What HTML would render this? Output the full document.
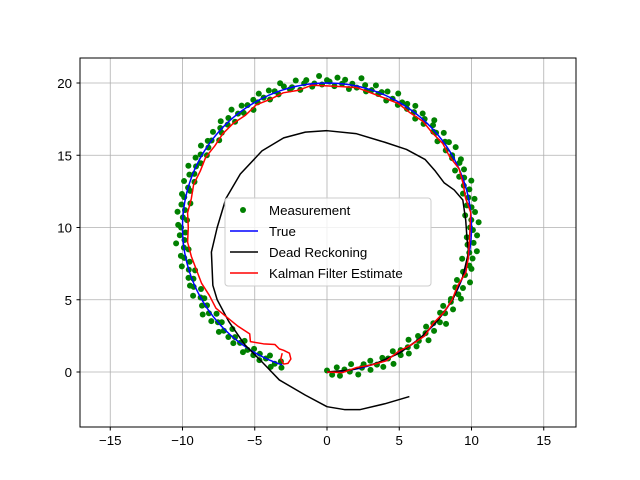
<!DOCTYPE html>
<html><head><meta charset="utf-8"><style>
body{margin:0;background:#fff}
svg{display:block;font-family:"Liberation Sans","DejaVu Sans",sans-serif}
</style></head><body>
<svg id="chart" width="640" height="480" xmlns="http://www.w3.org/2000/svg">
<rect width="640" height="480" fill="#fff"/>
<g id="grid"></g>
<g id="series" clip-path="url(#clip)"></g>
<defs><clipPath id="clip"><rect x="80" y="58" width="496" height="369"/></clipPath></defs>
<rect x="80" y="58" width="496" height="369" fill="none" stroke="#000" stroke-width="1"/>
<g id="ticks"></g>
<g id="legend">
<rect x="225" y="198" width="206" height="88" rx="3" fill="#fff" fill-opacity="0.8" stroke="#ccc"/>
<circle cx="243" cy="210" r="3" fill="green"/>
<text x="269" y="215" font-size="13.3">Measurement</text>
<line x1="230" y1="231" x2="258" y2="231" stroke="blue" stroke-width="1.5"/>
<text x="269" y="236" font-size="13.3">True</text>
<line x1="230" y1="252" x2="258" y2="252" stroke="#000" stroke-width="1.5"/>
<text x="269" y="257" font-size="13.3">Dead Reckoning</text>
<line x1="230" y1="273" x2="258" y2="273" stroke="red" stroke-width="1.5"/>
<text x="269" y="278" font-size="13.3">Kalman Filter Estimate</text>
</g>
</svg>
<script>
const xTicks=[-15,-10,-5,0,5,10,15];
const yTicks=[0,5,10,15,20];
const measAngle=[-90,-88,-86,-85,-83,-81,-80,-78,-76,-75,-73,-72,-70,-68,-67,-65,-64,-62,-60,-59,-57,-56,-54,-53,-51,-50,-48,-47,-45,-44,-42,-40,-39,-37,-36,-34,-33,-31,-30,-28,-27,-25,-24,-22,-21,-19,-18,-16,-15,-13,-12,-10,-9,-7,-6,-4,-3,-1,0,2,3,5,6,8,9,11,12,14,15,17,18,20,21,23,24,26,27,29,30,32,33,35,36,38,39,41,42,44,45,47,48,50,51,53,54,56,57,59,60,62,63,65,66,68,69,71,72,74,75,77,78,80,81,83,84,86,87,89,90,92,93,95,96,98,99,101,102,104,105,107,108,110,111,113,114,116,117,119,120,122,123,125,126,128,129,131,132,134,135,137,138,140,141,143,144,146,147,149,150,152,153,155,156,158,159,161,162,164,165,167,168,170,171,173,174,176,177,179,180,182,183,185,186,188,189,191,192,194,195,197,198,200,201,203,204,206,207,209,210,212,213,215,216,218,219,221,222,224,225,227,228,230,231,233,234,236,237,239,240,242,243,245,246,248,249,251,252];
const measRadius=[9.9,10.2,9.7,10.3,9.9,10.1,9.6,10.4,10.0,9.8,10.3,9.7,10.1,10.4,9.8,10.0,10.5,9.7,10.2,9.9,10.4,10.0,9.6,10.3,10.1,9.8,10.5,10.0,9.7,10.3,9.9,10.2,10.6,9.8,10.1,9.7,10.4,10.0,9.9,10.5,10.2,9.8,10.3,9.7,10.6,10.1,9.9,10.4,10.2,9.6,10.3,10.0,10.5,9.8,10.2,9.7,10.4,10.1,9.9,10.5,10.0,9.6,10.3,10.1,9.8,10.4,10.0,9.7,10.2,9.9,10.5,10.1,9.8,10.3,9.7,10.2,10.4,9.9,10.0,10.5,9.8,10.3,10.1,9.7,10.4,10.0,9.9,10.2,10.5,9.8,10.1,10.3,9.7,10.0,10.4,9.9,10.2,10.1,9.8,10.5,10.0,9.7,10.3,10.1,9.9,10.4,10.0,9.8,10.2,10.6,9.9,10.1,9.7,10.3,10.0,10.4,9.8,10.1,10.2,9.9,10.5,10.0,9.8,10.3,10.1,9.7,10.4,10.0,9.9,10.2,10.5,9.8,10.1,10.3,9.7,10.0,10.4,9.9,10.2,9.6,10.1,10.3,9.8,10.0,10.5,9.7,10.2,9.9,10.4,10.1,9.8,10.3,9.6,10.0,10.2,9.9,10.4,9.7,10.1,10.3,9.8,10.0,10.5,9.9,10.2,9.7,10.4,10.0,9.8,10.3,10.1,9.6,10.2,9.9,10.4,10.0,9.7,10.3,10.1,9.8,10.2,9.9,10.5,10.0,9.7,10.3,10.1,9.8,10.4,10.0,9.6,10.2,9.9,10.3,10.1,9.7,10.4,10.0,9.8,10.2,9.9,10.5,10.1,9.7,10.3,10.0,9.8,10.4,10.1,9.6,10.2,9.9,10.3,10.0,9.7,10.4,10.1,9.8,10.2,9.9,10.3,10.0,9.7,10.4,10.1,9.8,10.2,9.9,10.3,9.7,10.1,10.0,10.4,9.8,10.2,9.9];
const trueAngle=[-90,-75,-60,-45,-30,-15,0,15,30,45,60,75,90,105,120,135,150,165,180,195,210,225,240,252];
const trueRadius=[10,10,10,10,10,10,10,10,10,10,10,10,10,10,10,10,10,10,10,10,10,10,10,10];
const kfAngle=[-90,-84,-78,-72,-66,-60,-54,-48,-42,-36,-30,-24,-18,-12,-6,0,6,12,18,24,30,36,42,48,54,60,66,72,78,84,90,96,102,108,114,120,126,132,138,144,150,156,162,168,174,180,186,192,198,204,210,216,222,228,234];
const kfRadius=[10.0,10.1,9.9,10.0,10.1,9.9,10.0,10.1,9.9,10.0,10.0,9.9,10.1,10.0,9.9,9.9,10.0,9.8,9.9,10.0,9.8,9.9,9.8,9.9,9.8,9.9,9.8,9.8,9.9,9.8,9.8,9.9,9.7,9.8,9.7,9.8,9.6,9.7,9.7,9.6,9.7,9.6,9.7,9.6,9.7,9.6,9.7,9.6,9.5,9.5,9.4,9.5,9.3,9.2,9.1];
const kfTailX=[-5.3,-4.4,-3.6,-3.3,-3.0,-2.6,-2.5,-2.7,-3.0,-3.2,-3.1];
const kfTailY=[2.1,1.95,1.9,1.6,1.5,1.3,0.9,0.6,0.55,0.9,1.3];
const drX=[0,1.7,3.4,5,6.4,7.7,8.7,9.4,9.8,9.7,9.6,9.4,8.8,8.1,7.5,6.8,5.5,4,2,0,-1.5,-3,-4.5,-6,-7,-7.6,-8,-7.9,-7.6,-6.8,-5.7,-4.5,-3.3,-1.5,0,1.2,2.3,4,5.7];
const drY=[0,0.15,0.6,1.3,2.3,3.6,5,6.6,8.3,9.1,10.5,11.9,12.6,13.1,13.9,14.7,15.4,15.9,16.5,16.7,16.6,16.2,15.3,13.7,12,10,8.3,6,5,3.5,1.9,0.7,-0.55,-1.6,-2.4,-2.6,-2.6,-2.2,-1.7];

const X=v=>327+v*14.45, Y=v=>372-v*14.45;
const NS="http://www.w3.org/2000/svg";
const mk=(t,a,p)=>{const e=document.createElementNS(NS,t);for(const k in a)e.setAttribute(k,a[k]);p.appendChild(e);return e;};
const grid=document.getElementById('grid'),ticks=document.getElementById('ticks'),ser=document.getElementById('series');
xTicks.forEach(t=>{
 const g=mk('line',{x1:X(t),x2:X(t),y1:58,y2:427,stroke:'#b0b0b0','stroke-width':0.8},grid);
 
 
 const k=mk('line',{x1:X(t),x2:X(t),y1:427,y2:430.5,stroke:'#000'},ticks);
 
 
 const tx=mk('text',{x:X(t),y:445,'font-size':13.3,'text-anchor':'middle'},ticks);
 tx.textContent=t<0?'\u2212'+(-t):String(t);
 
 
});
yTicks.forEach(t=>{
 const g=mk('line',{x1:80,x2:576,y1:Y(t),y2:Y(t),stroke:'#b0b0b0','stroke-width':0.8},grid);
 
 
 const k=mk('line',{x1:76.5,x2:80,y1:Y(t),y2:Y(t),stroke:'#000'},ticks);
 
 
 const tx=mk('text',{x:72,y:Y(t)+5,'font-size':13.3,'text-anchor':'end'},ticks);
 tx.textContent=String(t);
 
 
});
const rad=a=>a*Math.PI/180;
const polar=(A,R)=>A.map((a,i)=>[R[i]*Math.cos(rad(a)),10+R[i]*Math.sin(rad(a))]);
function line(pts,col,name){
 const p=mk('polyline',{points:pts.map(q=>X(q[0])+','+Y(q[1])).join(' '),fill:'none',stroke:col,'stroke-width':1.5,'stroke-linejoin':'round'},ser);
 
 
}
measAngle.forEach((a,i)=>{
 const x=measRadius[i]*Math.cos(rad(a)), y=10+measRadius[i]*Math.sin(rad(a));
 const c=mk('circle',{cx:X(x),cy:Y(y),r:3,fill:'green'},ser);
 
 
});
const tp=[];for(let a=-90;a<=252;a+=2)tp.push(a);
line(tp.map(a=>{let i=0;while(i<trueAngle.length-1&&trueAngle[i+1]<=a)i++;const r=trueRadius[i];return [r*Math.cos(rad(a)),10+r*Math.sin(rad(a))];}),'blue','true-line');
line(drX.map((x,i)=>[x,drY[i]]),'#000','dead-reckoning-line');
const kf=polar(kfAngle,kfRadius).concat(kfTailX.map((x,i)=>[x,kfTailY[i]]));
line(kf,'red','kalman-filter-line');
</script>
</body></html>
